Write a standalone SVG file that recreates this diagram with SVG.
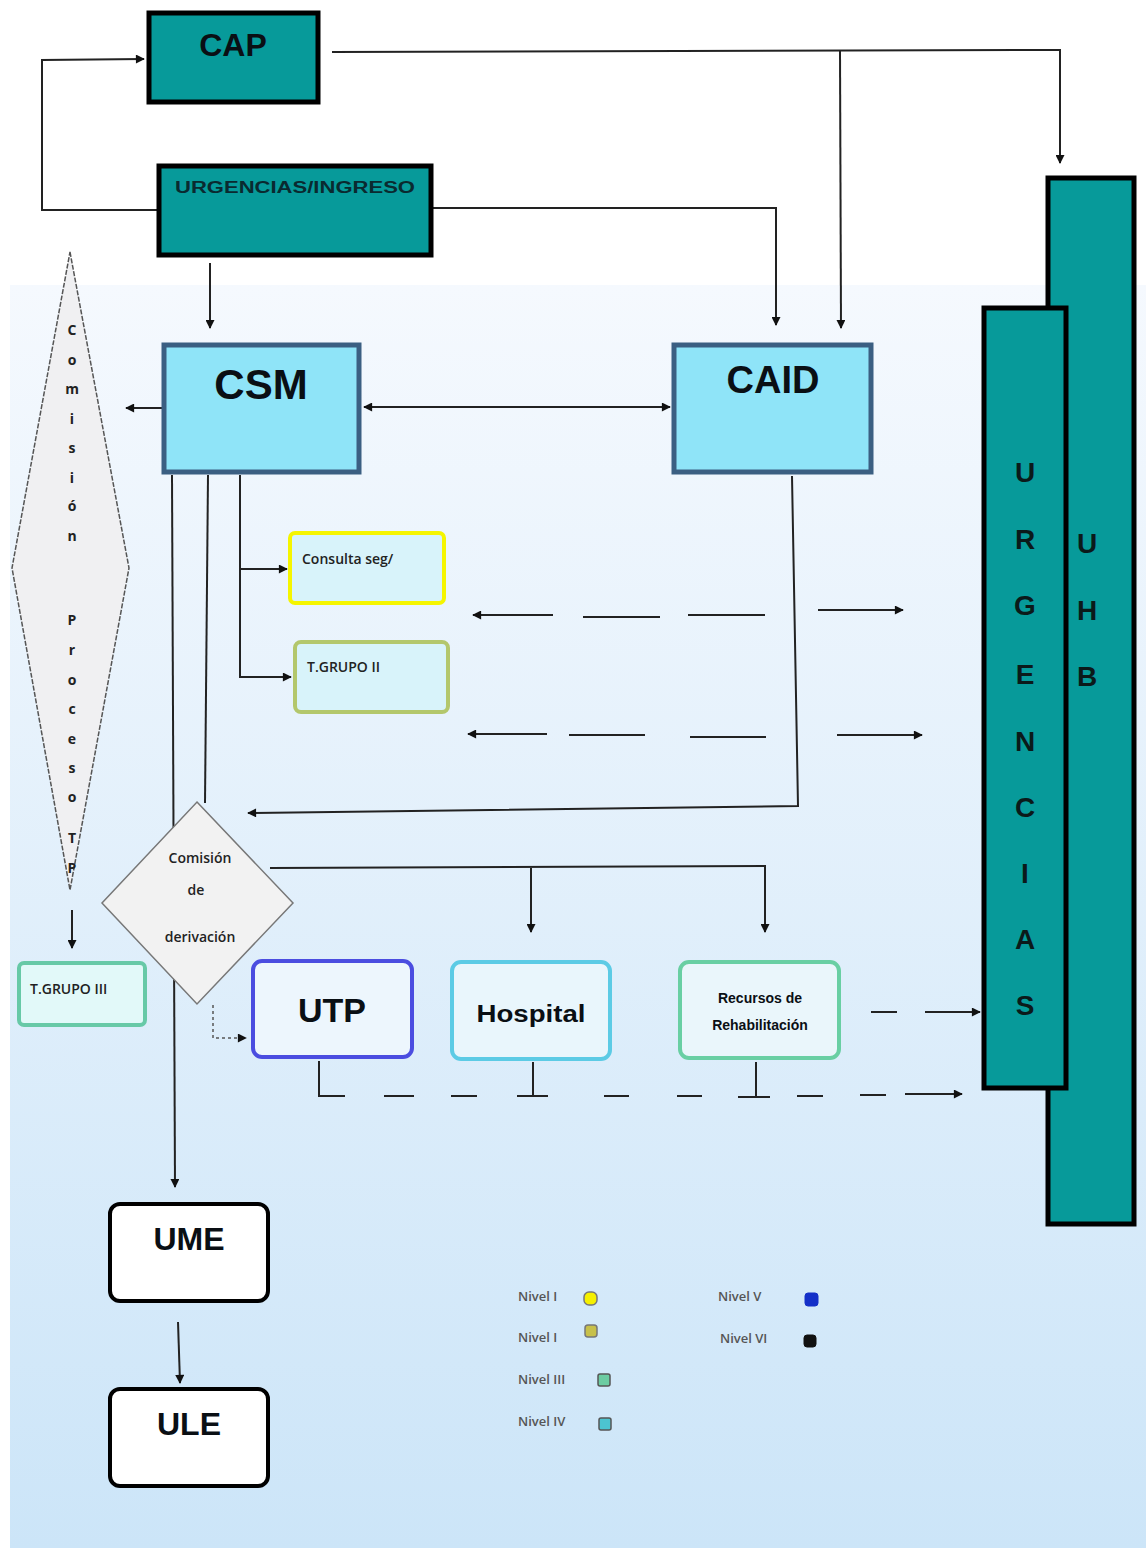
<svg xmlns="http://www.w3.org/2000/svg" width="1146" height="1550" viewBox="0 0 1146 1550">
<defs>
<linearGradient id="bg" x1="0" y1="0" x2="0" y2="1">
<stop offset="0" stop-color="#f5f9fe"/>
<stop offset="1" stop-color="#cce5f8"/>
</linearGradient>
<marker id="ah" viewBox="0 0 10 10" refX="9" refY="5" markerWidth="10" markerHeight="9" markerUnits="userSpaceOnUse" orient="auto-start-reverse">
<path d="M0,0 L10,5 L0,10 z" fill="#111"/>
</marker>
<style>
.teal{fill:#079a9a;stroke:#000;stroke-width:5}
.cyan{fill:#8fe4f8;stroke:#3b5f82;stroke-width:5}
.ln{fill:none;stroke:#222;stroke-width:2}
.big{font-family:"Liberation Sans",Arial,sans-serif;font-weight:bold;fill:#0a0f14;text-anchor:middle}
.sm{font-family:"Open Sans","Liberation Sans",sans-serif;font-size:14px;fill:#222;font-weight:600}
.leg{font-family:"Open Sans","Liberation Sans",sans-serif;font-size:13px;fill:#555;font-weight:600}
.vt{font-family:"Liberation Sans",Arial,sans-serif;font-weight:bold;font-size:28px;fill:#0b1a1a;text-anchor:middle}
.cp{font-family:"Open Sans","Liberation Sans",sans-serif;font-size:14px;fill:#222;text-anchor:middle;font-weight:bold}
</style>
</defs>
<rect x="0" y="0" width="1146" height="1550" fill="#ffffff"/>
<rect x="10" y="285" width="1136" height="1263" fill="url(#bg)"/>

<g id="connectors">
<polyline class="ln" points="158,210 42,210 42,60 144,59" marker-end="url(#ah)"/>
<polyline class="ln" points="332,52 1060,50 1060,163" marker-end="url(#ah)"/>
<line class="ln" x1="840" y1="51" x2="841" y2="328" marker-end="url(#ah)"/>
<polyline class="ln" points="432,208 776,208 776,325" marker-end="url(#ah)"/>
<line class="ln" x1="210" y1="263" x2="210" y2="328" marker-end="url(#ah)"/>
<line class="ln" x1="364" y1="407" x2="670" y2="407" marker-start="url(#ah)" marker-end="url(#ah)"/>
<line class="ln" x1="162" y1="408" x2="126" y2="408" marker-end="url(#ah)"/>
<polyline class="ln" points="240,475 240,678"/>
<line class="ln" x1="240" y1="569" x2="287" y2="569" marker-end="url(#ah)"/>
<line class="ln" x1="240" y1="677" x2="291" y2="677" marker-end="url(#ah)"/>
<line class="ln" x1="208" y1="475" x2="205" y2="803"/>
<line class="ln" x1="172" y1="475" x2="175" y2="1187" marker-end="url(#ah)"/>
<line class="ln" x1="553" y1="615" x2="473" y2="615" marker-end="url(#ah)"/>
<line class="ln" x1="583" y1="617" x2="660" y2="617"/>
<line class="ln" x1="688" y1="615" x2="765" y2="615"/>
<line class="ln" x1="818" y1="610" x2="903" y2="610" marker-end="url(#ah)"/>
<line class="ln" x1="547" y1="734" x2="468" y2="734" marker-end="url(#ah)"/>
<line class="ln" x1="569" y1="735" x2="645" y2="735"/>
<line class="ln" x1="690" y1="737" x2="766" y2="737"/>
<line class="ln" x1="837" y1="735" x2="922" y2="735" marker-end="url(#ah)"/>
<polyline class="ln" points="792,476 798,806 248,813" marker-end="url(#ah)"/>
<polyline class="ln" points="270,868 765,866 765,932" marker-end="url(#ah)"/>
<line class="ln" x1="531" y1="868" x2="531" y2="932" marker-end="url(#ah)"/>
<polyline fill="none" stroke="#555" stroke-width="1.5" stroke-dasharray="3 3" points="213,1005 213,1038 246,1038" marker-end="url(#ah)"/>
<line class="ln" x1="72" y1="910" x2="72" y2="948" marker-end="url(#ah)"/>
<line class="ln" x1="871" y1="1012" x2="897" y2="1012"/>
<line class="ln" x1="925" y1="1012" x2="980" y2="1012" marker-end="url(#ah)"/>
<polyline class="ln" points="319,1061 319,1096 345,1096"/>
<line class="ln" x1="384" y1="1096" x2="414" y2="1096"/>
<line class="ln" x1="451" y1="1096" x2="477" y2="1096"/>
<line class="ln" x1="533" y1="1062" x2="533" y2="1096"/>
<line class="ln" x1="517" y1="1096" x2="548" y2="1096"/>
<line class="ln" x1="604" y1="1096" x2="629" y2="1096"/>
<line class="ln" x1="677" y1="1096" x2="702" y2="1096"/>
<line class="ln" x1="756" y1="1062" x2="756" y2="1096"/>
<line class="ln" x1="738" y1="1097" x2="770" y2="1097"/>
<line class="ln" x1="797" y1="1096" x2="823" y2="1096"/>
<line class="ln" x1="860" y1="1095" x2="886" y2="1095"/>
<line class="ln" x1="905" y1="1094" x2="962" y2="1094" marker-end="url(#ah)"/>
<line class="ln" x1="178" y1="1322" x2="180" y2="1383" marker-end="url(#ah)"/>
</g>

<g id="uhb">
<rect class="teal" x="1048" y="178" width="86" height="1046"/>
<text class="vt" x="1087" y="553">U</text>
<text class="vt" x="1087" y="620">H</text>
<text class="vt" x="1087" y="686">B</text>
</g>
<g id="urgencias">
<rect class="teal" x="984" y="308" width="82" height="780"/>
<text class="vt" x="1025" y="482">U</text>
<text class="vt" x="1025" y="549">R</text>
<text class="vt" x="1025" y="615">G</text>
<text class="vt" x="1025" y="684">E</text>
<text class="vt" x="1025" y="751">N</text>
<text class="vt" x="1025" y="817">C</text>
<text class="vt" x="1025" y="883">I</text>
<text class="vt" x="1025" y="949">A</text>
<text class="vt" x="1025" y="1015">S</text>
</g>

<g id="cap">
<rect class="teal" x="149" y="13" width="169" height="89"/>
<text class="big" x="233" y="56" font-size="32" fill="#0a2020">CAP</text>
</g>
<g id="urgencias-ingreso">
<rect class="teal" x="159" y="166" width="272" height="89"/>
<text x="295" y="193" font-family="Liberation Sans,Arial,sans-serif" font-weight="bold" font-size="16" fill="#0a2a30" text-anchor="middle" textLength="240" lengthAdjust="spacingAndGlyphs">URGENCIAS/INGRESO</text>
</g>

<g id="comision-procesos">
<polygon points="70,252 129,568 70,890 12,568" fill="#f0f0f2" stroke="#555" stroke-width="1.5" stroke-dasharray="5 1.5"/>
<g class="cp">
<text x="72" y="335">C</text><text x="72" y="365">o</text><text x="72" y="394">m</text><text x="72" y="424">i</text><text x="72" y="453">s</text><text x="72" y="483">i</text><text x="72" y="511">ó</text><text x="72" y="541">n</text>
<text x="72" y="625">P</text><text x="72" y="655">r</text><text x="72" y="685">o</text><text x="72" y="714">c</text><text x="72" y="744">e</text><text x="72" y="773">s</text><text x="72" y="802">o</text><text x="72" y="843">T</text><text x="72" y="873">P</text>
</g>
</g>

<g id="csm">
<rect class="cyan" x="164" y="345" width="195" height="127"/>
<text class="big" x="261" y="399" font-size="42">CSM</text>
</g>
<g id="caid">
<rect class="cyan" x="674" y="345" width="197" height="127"/>
<text class="big" x="773" y="393" font-size="38">CAID</text>
</g>

<g id="consulta">
<rect x="290" y="533" width="154" height="70" rx="5" fill="#d8f3fa" stroke="#f5f500" stroke-width="4"/>
<text class="sm" x="302" y="564">Consulta seg/</text>
</g>
<g id="tgrupo2">
<rect x="295" y="642" width="153" height="70" rx="6" fill="#d8f3fa" stroke="#b3c76c" stroke-width="4"/>
<text class="sm" x="307" y="672">T.GRUPO II</text>
</g>
<g id="tgrupo3">
<rect x="19" y="963" width="126" height="62" rx="5" fill="#e2f9f9" stroke="#67c9a7" stroke-width="4"/>
<text class="sm" x="30" y="994">T.GRUPO III</text>
</g>

<g id="comision-derivacion">
<polygon points="197,802 293,903 197,1004 102,903" fill="#f2f2f2" stroke="#777" stroke-width="1.5"/>
<text class="sm" x="200" y="863" text-anchor="middle">Comisión</text>
<text class="sm" x="196" y="895" text-anchor="middle">de</text>
<text class="sm" x="200" y="942" text-anchor="middle">derivación</text>
</g>

<g id="utp">
<rect x="253" y="961" width="159" height="96" rx="9" fill="#edf6fd" stroke="#4b4de0" stroke-width="4"/>
<text class="big" x="332" y="1022" font-size="34">UTP</text>
</g>
<g id="hospital">
<rect x="452" y="962" width="158" height="97" rx="9" fill="#e9f6fc" stroke="#5ccbe5" stroke-width="4"/>
<text class="big" x="531" y="1022" font-size="23" textLength="109" lengthAdjust="spacingAndGlyphs">Hospital</text>
</g>
<g id="recursos">
<rect x="680" y="962" width="159" height="96" rx="9" fill="#eaf6fb" stroke="#69cfa3" stroke-width="4"/>
<text class="big" x="760" y="1003" font-size="14">Recursos de</text>
<text class="big" x="760" y="1030" font-size="14">Rehabilitación</text>
</g>

<g id="ume">
<rect x="110" y="1204" width="158" height="97" rx="10" fill="#ffffff" stroke="#000" stroke-width="4"/>
<text class="big" x="189" y="1250" font-size="32">UME</text>
</g>
<g id="ule">
<rect x="110" y="1389" width="158" height="97" rx="10" fill="#ffffff" stroke="#000" stroke-width="4"/>
<text class="big" x="189" y="1435" font-size="32">ULE</text>
</g>

<g id="legend">
<text class="leg" x="518" y="1301">Nivel I</text>
<rect x="584" y="1292" width="13" height="13" rx="5" fill="#f5f000" stroke="#777" stroke-width="1.5"/>
<text class="leg" x="518" y="1342">Nivel I</text>
<rect x="585" y="1325" width="12" height="12" rx="3" fill="#c7c04a" stroke="#777" stroke-width="1.5"/>
<text class="leg" x="518" y="1384">Nivel III</text>
<rect x="598" y="1374" width="12" height="12" rx="2" fill="#6ccca2" stroke="#555" stroke-width="1.5"/>
<text class="leg" x="518" y="1426">Nivel IV</text>
<rect x="599" y="1418" width="12" height="12" rx="2" fill="#4cc4d0" stroke="#555" stroke-width="1.5"/>
<text class="leg" x="718" y="1301">Nivel V</text>
<rect x="805" y="1293" width="13" height="13" rx="3" fill="#1430c8" stroke="#1430c8"/>
<text class="leg" x="720" y="1343">Nivel VI</text>
<rect x="804" y="1335" width="12" height="12" rx="3" fill="#111" stroke="#111"/>
</g>
</svg>
